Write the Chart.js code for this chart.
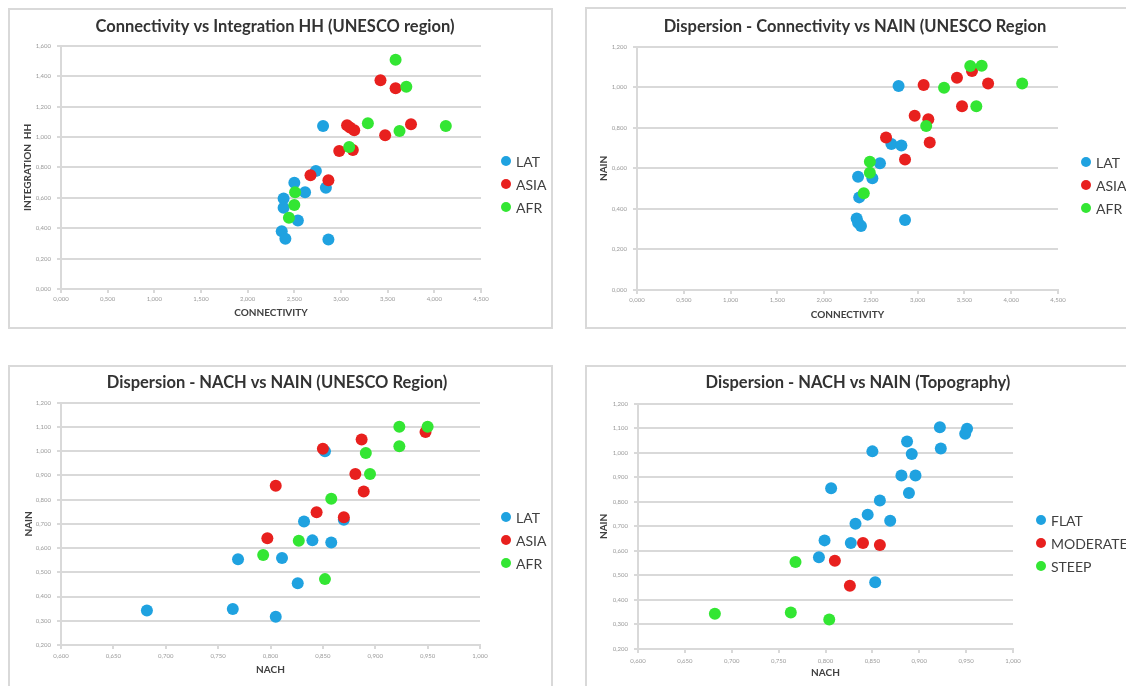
<!DOCTYPE html>
<html>
<head>
<meta charset="utf-8">
<title>Dispersion charts</title>
<script src="https://cdn.jsdelivr.net/npm/chart.js@4.4.0/dist/chart.umd.min.js"></script>
<style>
  body { margin: 0; width: 1126px; height: 686px; overflow: hidden; background: #fff; font-family: Lato, "Open Sans", sans-serif; }
  .frame { position: absolute; border: 2px solid #d9d9d9; box-sizing: border-box; }
  canvas { position: absolute; }
  .legend { position: absolute; font-size: 14px; color: #404040; }
  .legend .row { display: flex; align-items: center; height: 23px; white-space: nowrap; }
  .legend .dot { width: 10px; height: 10px; border-radius: 50%; margin-right: 5px; }
</style>
</head>
<body>
<div class="frame" style="left:8px;top:8px;width:545px;height:321px"></div>
<div class="frame" style="left:585px;top:7px;width:600px;height:322px"></div>
<div class="frame" style="left:8px;top:365px;width:545px;height:400px"></div>
<div class="frame" style="left:585px;top:365px;width:600px;height:400px"></div>

<canvas id="c1" width="532" height="318" style="left:9px;top:9px"></canvas>
<canvas id="c2" width="538" height="319" style="left:586px;top:8px"></canvas>
<canvas id="c3" width="536" height="319" style="left:9px;top:367px"></canvas>
<canvas id="c4" width="544" height="319" style="left:586px;top:367px"></canvas>

<script>
// series names / colours
const regions = ['LAT', 'ASIA', 'AFR'];
const topography = ['FLAT', 'MODERATE', 'STEEP'];
const colors = ['#1fa2e0', '#e8201e', '#33e633'];

// Connectivity vs Integration HH (UNESCO region)
const connLat1 = [2.808, 2.731, 2.500, 2.615, 2.838, 2.385, 2.385, 2.538, 2.365, 2.404, 2.865];
const intLat = [1.073, 0.776, 0.699, 0.637, 0.666, 0.596, 0.534, 0.451, 0.380, 0.330, 0.325];
const connAsia1 = [3.423, 3.585, 3.065, 3.096, 3.142, 3.750, 3.473, 2.981, 3.127, 2.673, 2.865];
const intAsia = [1.374, 1.321, 1.077, 1.062, 1.044, 1.084, 1.011, 0.908, 0.914, 0.749, 0.716];
const connAfr1 = [3.585, 3.700, 3.288, 3.627, 4.123, 3.088, 2.508, 2.500, 2.442];
const intAfr = [1.508, 1.330, 1.090, 1.040, 1.073, 0.934, 0.637, 0.552, 0.468];

// Connectivity vs NAIN (UNESCO region)
const connLat2 = [2.796, 2.719, 2.826, 2.597, 2.363, 2.516, 2.375, 2.348, 2.363, 2.394, 2.865];
const nainLat2 = [1.006, 0.720, 0.713, 0.625, 0.559, 0.551, 0.457, 0.353, 0.332, 0.316, 0.345];
const connAsia2 = [3.064, 3.420, 3.581, 3.753, 3.474, 2.968, 3.114, 3.129, 2.662, 2.865];
const nainAsia2 = [1.011, 1.047, 1.080, 1.019, 0.907, 0.860, 0.842, 0.728, 0.753, 0.644];
const connAfr2 = [3.562, 3.684, 3.282, 4.117, 3.627, 3.091, 2.489, 2.489, 2.424];
const nainAfr2 = [1.105, 1.106, 0.998, 1.019, 0.907, 0.809, 0.633, 0.579, 0.477];

// NACH vs NAIN (UNESCO region)
const nachLat = [0.682, 0.764, 0.805, 0.769, 0.811, 0.826, 0.832, 0.840, 0.858, 0.870, 0.852];
const nainLat3 = [0.342, 0.349, 0.317, 0.554, 0.559, 0.455, 0.710, 0.632, 0.623, 0.717, 1.000];
const nachAsia = [0.850, 0.887, 0.948, 0.881, 0.889, 0.805, 0.844, 0.870, 0.797];
const nainAsia3 = [1.010, 1.048, 1.079, 0.906, 0.834, 0.858, 0.748, 0.727, 0.641];
const nachAfr = [0.923, 0.950, 0.923, 0.891, 0.895, 0.858, 0.827, 0.793, 0.852];
const nainAfr3 = [1.101, 1.101, 1.021, 0.993, 0.906, 0.804, 0.630, 0.572, 0.472];

// NACH vs NAIN (Topography)
const nachFlat = [0.922, 0.951, 0.949, 0.923, 0.887, 0.850, 0.892, 0.881, 0.896, 0.889, 0.806, 0.858, 0.845, 0.832, 0.869, 0.799, 0.827, 0.793, 0.853];
const nainFlat = [1.104, 1.098, 1.078, 1.018, 1.046, 1.006, 0.995, 0.908, 0.908, 0.836, 0.856, 0.806, 0.748, 0.711, 0.723, 0.643, 0.632, 0.574, 0.472];
const nachModerate = [0.840, 0.858, 0.810, 0.826];
const nainModerate = [0.632, 0.624, 0.560, 0.458];
const nachSteep = [0.768, 0.682, 0.763, 0.804];
const nainSteep = [0.555, 0.344, 0.349, 0.320];

function points(xs, ys) {
    return xs.map((x, i) => ({ x: x, y: ys[i] }));
}

// 0.2 -> "0,200"
function fmt(v) {
    return Number(v).toFixed(3).replace('.', ',');
}

function makeChart(id, names, series, s) {
    const datasets = series.map((xy, i) => ({
        label: names[i],
        data: points(xy[0], xy[1]),
        backgroundColor: colors[i],
        borderWidth: 0,
        pointRadius: 6,
        pointHoverRadius: 6,
        order: series.length - i   // later series drawn on top, like Excel
    }));

    return new Chart(document.getElementById(id), {
        type: 'scatter',
        data: { datasets: datasets },
        options: {
            responsive: false,
            animation: false,
            events: [],
            plugins: {
                legend: { display: false },
                tooltip: { enabled: false },
                title: {
                    display: true,
                    text: s.title,
                    color: '#333',
                    font: { family: 'Lato', size: 16.5, weight: 'bold' },
                    padding: { top: s.titleTop, bottom: s.titleBottom }
                }
            },
            scales: {
                x: {
                    type: 'linear',
                    min: s.xMin, max: s.xMax,
                    afterFit: scale => { scale.height = s.xHeight; },
                    grid: { drawOnChartArea: false, color: '#d9d9d9', lineWidth: 2, tickLength: 4 },
                    border: { color: '#d9d9d9', width: 2 },
                    ticks: {
                        stepSize: s.xStep, autoSkip: false, maxRotation: 0, padding: s.xTickPad,
                        color: '#9a9a9a', font: { family: 'Lato', size: 6 },
                        callback: fmt
                    },
                    title: {
                        display: true, text: s.xTitle, color: '#404040',
                        font: { family: 'Lato', size: 10, weight: 'bold' },
                        padding: { top: 0, bottom: s.xTitlePad }
                    }
                },
                y: {
                    type: 'linear',
                    min: s.yMin, max: s.yMax,
                    afterFit: scale => { scale.width = s.yWidth; },
                    grid: { color: '#d9d9d9', lineWidth: 2, tickLength: 4 },
                    border: { color: '#d9d9d9', width: 2 },
                    ticks: {
                        stepSize: s.yStep, padding: 6,
                        color: '#9a9a9a', font: { family: 'Lato', size: 6 },
                        callback: fmt
                    },
                    title: {
                        display: true, text: s.yTitle, color: '#404040',
                        font: { family: 'Lato', size: 10, weight: 'bold' },
                        padding: { top: s.yTitlePad, bottom: 0 }
                    }
                },
                // empty axis on the right: keeps room for the html legend
                // while the title stays centred on the whole box
                gap: {
                    type: 'linear',
                    position: 'right',
                    grid: { display: false },
                    border: { display: false },
                    ticks: { display: false },
                    afterFit: scale => { scale.width = s.gapRight; }
                }
            }
        }
    });
}

function addLegend(names, left, top) {
    const box = document.createElement('div');
    box.className = 'legend';
    box.style.left = left + 'px';
    box.style.top = top + 'px';
    names.forEach((name, i) => {
        const row = document.createElement('div');
        row.className = 'row';
        const dot = document.createElement('span');
        dot.className = 'dot';
        dot.style.background = colors[i];
        row.appendChild(dot);
        row.appendChild(document.createTextNode(name));
        box.appendChild(row);
    });
    document.body.appendChild(box);
}

makeChart('c1', regions,
    [[connLat1, intLat], [connAsia1, intAsia], [connAfr1, intAfr]],
    {
        title: 'Connectivity vs Integration HH (UNESCO region)', titleTop: 8, titleBottom: 9,
        xTitle: 'CONNECTIVITY', yTitle: 'INTEGRATION  HH',
        xMin: 0, xMax: 4.5, xStep: 0.5, yMin: 0, yMax: 1.6, yStep: 0.2,
        yWidth: 52, xHeight: 38, gapRight: 60, xTickPad: 2, xTitlePad: 8, yTitlePad: 13
    });

makeChart('c2', regions,
    [[connLat2, nainLat2], [connAsia2, nainAsia2], [connAfr2, nainAfr2]],
    {
        title: 'Dispersion - Connectivity vs NAIN (UNESCO Region', titleTop: 9, titleBottom: 10,
        xTitle: 'CONNECTIVITY', yTitle: 'NAIN',
        xMin: 0, xMax: 4.5, xStep: 0.5, yMin: 0, yMax: 1.2, yStep: 0.2,
        yWidth: 51, xHeight: 37, gapRight: 66, xTickPad: 2, xTitlePad: 6, yTitlePad: 12
    });

makeChart('c3', regions,
    [[nachLat, nainLat3], [nachAsia, nainAsia3], [nachAfr, nainAfr3]],
    {
        title: 'Dispersion - NACH vs NAIN (UNESCO Region)', titleTop: 6, titleBottom: 10,
        xTitle: 'NACH', yTitle: 'NAIN',
        xMin: 0.6, xMax: 1.0, xStep: 0.05, yMin: 0.2, yMax: 1.2, yStep: 0.1,
        yWidth: 52, xHeight: 41, gapRight: 65, xTickPad: 3, xTitlePad: 10, yTitlePad: 14
    });

makeChart('c4', topography,
    [[nachFlat, nainFlat], [nachModerate, nainModerate], [nachSteep, nainSteep]],
    {
        title: 'Dispersion - NACH vs NAIN (Topography)', titleTop: 6, titleBottom: 11,
        xTitle: 'NACH', yTitle: 'NAIN',
        xMin: 0.6, xMax: 1.0, xStep: 0.05, yMin: 0.2, yMax: 1.2, yStep: 0.1,
        yWidth: 52, xHeight: 37, gapRight: 117, xTickPad: 4, xTitlePad: 7, yTitlePad: 12
    });

addLegend(regions, 501, 149.5);
addLegend(regions, 1081, 150.5);
addLegend(regions, 501, 505.5);
addLegend(topography, 1036, 508.5);
</script>
</body>
</html>
